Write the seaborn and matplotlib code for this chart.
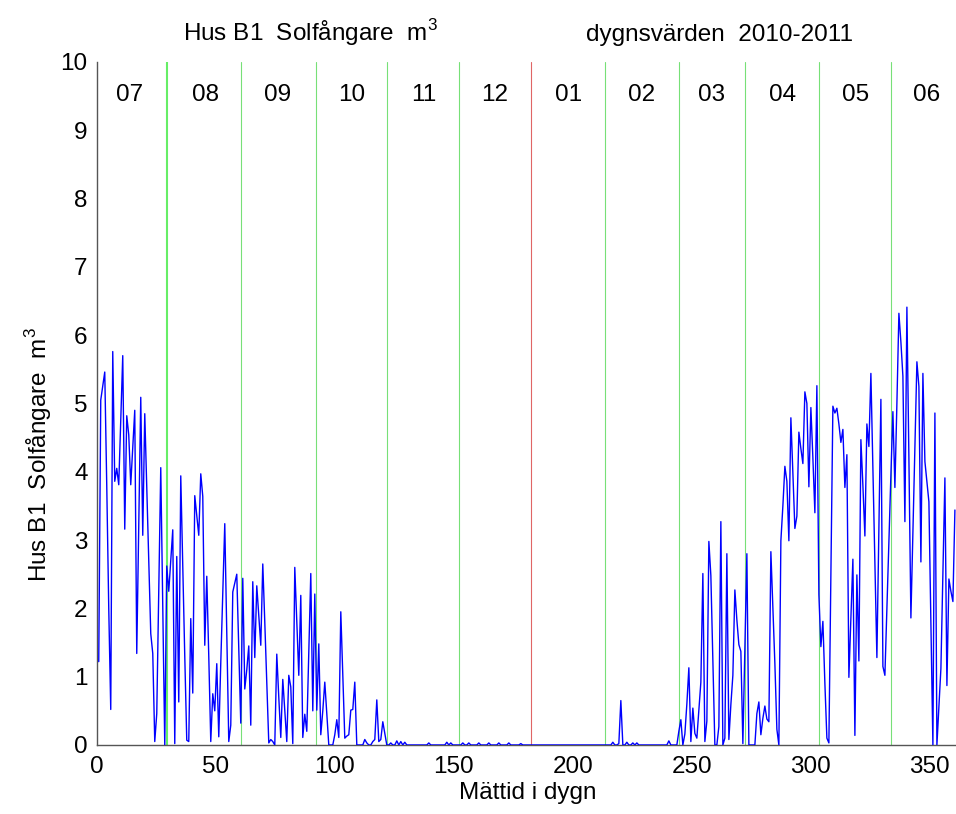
import numpy as np
import matplotlib
matplotlib.use('Agg')
import matplotlib.pyplot as plt
import seaborn as sns

# Hus B1 solfångare, dygnsvärden 2010-2011 (m3)
vals_a = [1.22, 5.05, 5.25, 5.46, 3.8, 2.0, 0.52, 5.76, 3.86, 4.05,
          3.81, 4.75, 5.70, 3.16, 4.82, 4.54, 3.81, 4.35, 4.90, 1.34,
          3.2, 5.09, 3.07, 4.85, 3.8, 2.7, 1.63, 1.34, 0.05, 0.46,
          2.3, 4.06, 2.0, 0.0, 2.62, 2.25, 2.7, 3.15, 0.02, 2.76,
          0.63, 3.94, 2.6, 1.3, 0.07, 0.05, 1.85, 0.76, 3.65, 3.36,
          3.07, 3.97, 3.64, 1.46, 2.47, 1.3, 0.05, 0.75, 0.50, 1.19]
vals_b = [0.12, 1.2, 2.2, 3.24, 1.6, 0.05, 0.29, 2.24, 2.37, 2.50,
          1.4, 0.32, 2.44, 0.82, 1.1, 1.45, 0.29, 2.39, 1.28, 2.33,
          1.9, 1.46, 2.65, 1.8, 0.9, 0.03, 0.08, 0.05, 0.0, 1.33,
          0.7, 0.11, 0.96, 0.5, 0.05, 1.02, 0.85, 0.02, 2.60, 1.8,
          1.02, 2.19, 0.11, 0.45, 0.20, 1.35, 2.51, 0.50, 2.21, 0.51,
          1.48, 0.15, 0.5, 0.92, 0.45, 0.0, 0.0, 0.0, 0.15, 0.37]
vals_c = [0.11, 1.95, 1.0, 0.10, 0.13, 0.15, 0.51, 0.52, 0.92, 0.0,
          0.0, 0.0, 0.0, 0.08, 0.03, 0.0, 0.0, 0.05, 0.08, 0.66,
          0.05, 0.08, 0.34, 0.17, 0.0, 0.0, 0.03, 0.0, 0.0, 0.06,
          0.0, 0.05, 0.0, 0.04, 0.0, 0.0, 0.0, 0.0, 0.0, 0.0,
          0.0, 0.0, 0.0, 0.0, 0.0, 0.03, 0.0, 0.0, 0.0, 0.0,
          0.0, 0.0, 0.0, 0.0, 0.04, 0.0, 0.03, 0.0, 0.0, 0.0]
vals_d = [0.0, 0.0, 0.03, 0.0, 0.0, 0.03, 0.0, 0.0, 0.0, 0.0,
          0.03, 0.0, 0.0, 0.0, 0.0, 0.03, 0.0, 0.0, 0.0, 0.0,
          0.03, 0.0, 0.0, 0.0, 0.0, 0.03, 0.0, 0.0, 0.0, 0.0,
          0.0, 0.02, 0.0, 0.0, 0.0, 0.0, 0.0, 0.0, 0.0, 0.0,
          0.0, 0.0, 0.0, 0.0, 0.0, 0.0, 0.0, 0.0, 0.0, 0.0,
          0.0, 0.0, 0.0, 0.0, 0.0, 0.0, 0.0, 0.0, 0.0, 0.0]
vals_e = [0.0, 0.0, 0.0, 0.0, 0.0, 0.0, 0.0, 0.0, 0.0, 0.0,
          0.0, 0.0, 0.0, 0.0, 0.0, 0.0, 0.0, 0.04, 0.0, 0.0,
          0.02, 0.65, 0.0, 0.0, 0.04, 0.0, 0.0, 0.03, 0.0, 0.03,
          0.0, 0.0, 0.0, 0.0, 0.0, 0.0, 0.0, 0.0, 0.0, 0.0,
          0.0, 0.0, 0.0, 0.0, 0.0, 0.06, 0.0, 0.0, 0.0, 0.0,
          0.2, 0.37, 0.0, 0.16, 0.6, 1.13, 0.05, 0.54, 0.17, 0.10]
vals_f = [0.5, 0.92, 2.51, 0.05, 0.35, 2.98, 2.48, 1.25, 0.0, 0.0,
          0.27, 3.27, 0.0, 0.1, 2.80, 0.08, 0.59, 1.02, 2.27, 1.83,
          1.47, 1.37, 0.02, 1.4, 2.80, 0.0, 0.0, 0.0, 0.0, 0.46,
          0.63, 0.15, 0.39, 0.57, 0.38, 0.34, 2.83, 2.0, 1.19, 0.23,
          0.0, 2.99, 3.5, 4.08, 3.86, 2.99, 4.79, 4.0, 3.17, 3.35,
          4.58, 4.34, 4.12, 5.17, 5.0, 3.78, 4.94, 4.2, 3.40, 5.26]
vals_g = [2.2, 1.44, 1.81, 0.9, 0.10, 0.03, 2.5, 4.96, 4.86, 4.93,
          4.7, 4.43, 4.62, 3.77, 4.25, 0.99, 1.85, 2.72, 0.14, 2.49,
          1.23, 4.47, 3.8, 3.06, 4.70, 4.37, 5.44, 4.05, 2.66, 1.28,
          3.2, 5.06, 1.15, 1.02, 2.0, 3.0, 3.95, 4.88, 3.77, 5.0,
          6.32, 5.9, 5.4, 3.27, 6.41, 4.2, 1.86, 3.1, 4.4, 5.61,
          5.25, 2.68, 5.44, 4.15, 3.85, 3.56, 1.78, 0.0, 4.86, 0.0,
          0.55, 1.12, 2.5, 3.91, 0.87, 2.43, 2.25, 2.10, 3.44]

flow = vals_a + vals_b + vals_c + vals_d + vals_e + vals_f + vals_g
dt = 0.8407  # sample spacing in days
t = np.arange(1, len(flow) + 1) * dt

# month borders (day) and labels
month_ends = [29.4, 60.8, 92.1, 122.0, 152.4, 182.7, 213.8, 244.9, 272.6, 303.7, 334.0]
month_names = ['07', '08', '09', '10', '11', '12', '01', '02', '03', '04', '05', '06']
month_mid = [14.0, 45.5, 75.9, 107.2, 137.3, 167.4, 198.2, 228.8, 258.2, 288.2, 318.7, 348.9]

sns.set_style('white')
plt.rcParams['font.family'] = ['Liberation Sans', 'DejaVu Sans']
plt.rcParams['mathtext.fontset'] = 'custom'
plt.rcParams['mathtext.rm'] = 'Liberation Sans'
plt.rcParams['text.color'] = 'black'
fs = 17.5

fig = plt.figure(figsize=(9.56, 8.14), dpi=100)
ax = fig.add_axes([0.1012, 0.0848, 0.8990, 0.8391])

for i, xe in enumerate(month_ends):
    if i == 0:
        ax.axvline(xe, color='#66ee66', lw=1.5, zorder=1)
    elif i == 5:
        ax.axvline(xe, color='#e06666', lw=0.8, zorder=1)
    else:
        ax.axvline(xe, color='#77e077', lw=0.8, zorder=1)

sns.lineplot(x=t, y=flow, ax=ax, color='#0000ff', lw=1.0, estimator=None, zorder=3)

for m, name in zip(month_mid, month_names):
    ax.text(m, 9.52, name, ha='center', va='center', fontsize=fs, color='black')

ax.set_xlim(0, 361.2)
ax.set_ylim(0, 10)
ax.set_xticks(range(0, 351, 50))
ax.set_yticks(range(0, 11))
ax.tick_params(direction='in', length=6, width=0.9, colors='#333333',
               labelcolor='black', labelsize=fs)
ax.tick_params(axis='x', pad=8)
ax.tick_params(axis='y', pad=6.5)
for s in ['top', 'right']:
    ax.spines[s].set_visible(False)
for s in ['left', 'bottom']:
    ax.spines[s].set_color('#555555')
    ax.spines[s].set_linewidth(1.0)
ax.set_xlabel('')
ax.set_ylabel('')

fig.text(310 / 956, 1 - 41 / 814, 'Hus B1  Solfångare  m$^3$', ha='center', va='baseline', fontsize=fs)
fig.text(720 / 956, 1 - 41 / 814, 'dygnsvärden  2010-2011', ha='center', va='baseline', fontsize=fs)
fig.text(527.5 / 956, 1 - 799 / 814, 'Mättid i dygn', ha='center', va='baseline', fontsize=fs)
fig.text(39 / 956, 1 - 455 / 814, 'Hus B1  Solfångare  m$^3$', ha='center', va='center',
         rotation=90, fontsize=fs)

fig.savefig('out.png', dpi=100)
